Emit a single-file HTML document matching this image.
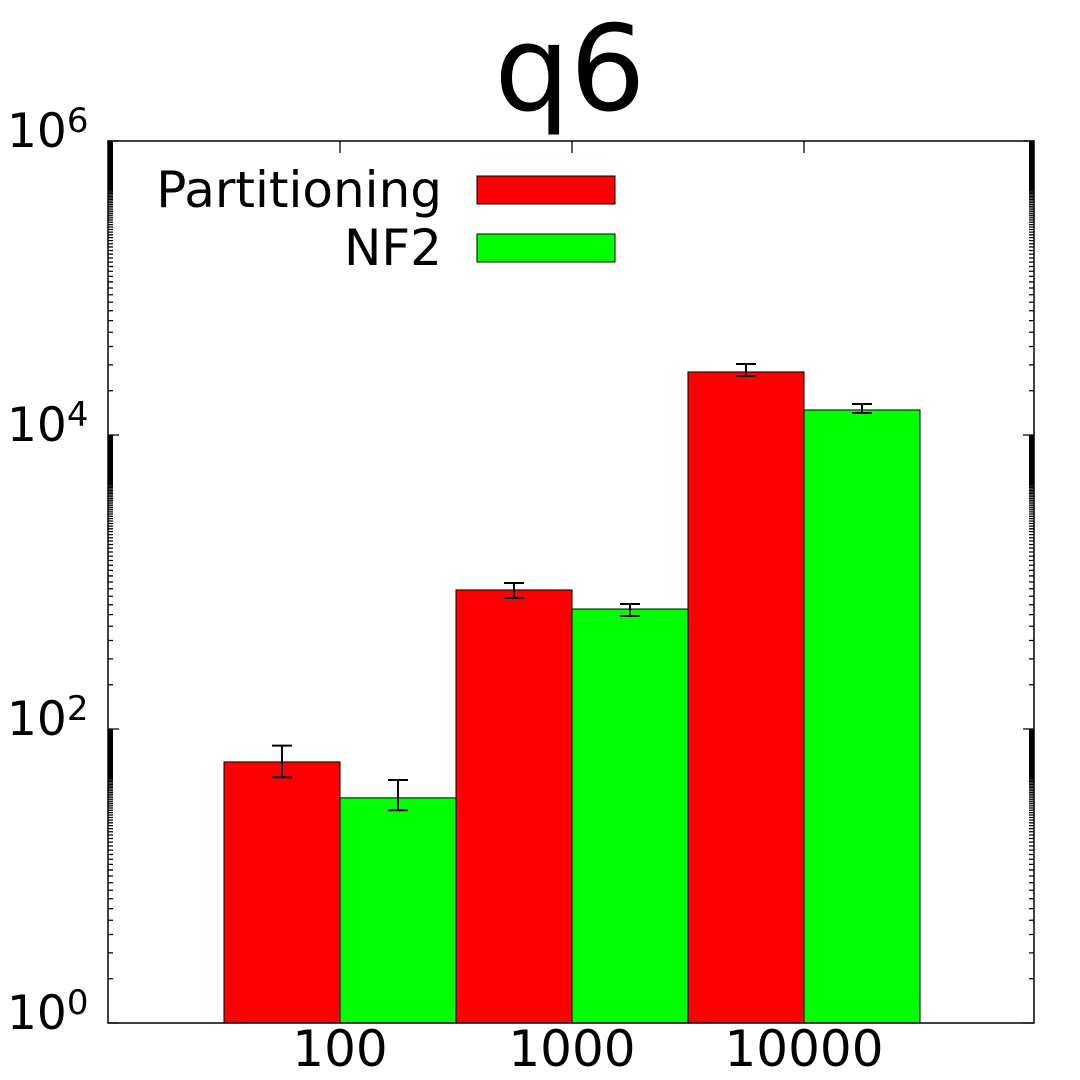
<!DOCTYPE html>
<html><head><meta charset="utf-8"><style>
body{margin:0;background:#fff}
svg{display:block;font-family:"DejaVu Sans","Liberation Sans",sans-serif}
</style></head><body>
<svg id="chart" width="1080" height="1080" viewBox="0 0 1080 1080" xmlns="http://www.w3.org/2000/svg">
<rect width="1080" height="1080" fill="#fff"/>
<text x="570" y="110" font-size="119" text-anchor="middle">q6</text>
<g id="plot"></g>
</svg>
<script>
const categories = ["100", "1000", "10000"];
const seriesNames = ["Partitioning", "NF2"];
const partitioning = [59.7, 883, 26850];
const partitioningLow = [47, 778, 25200];
const partitioningHigh = [77, 984, 30400];
const nf2 = [34, 655, 14800];
const nf2Low = [28, 587, 14120];
const nf2High = [45, 708, 16250];
const yTickExps = [0, 2, 4, 6];

const L=108,R=1034,T=141,B=1023;
const NS="http://www.w3.org/2000/svg";
const g=document.getElementById('plot');
function y(v){return B-(Math.log10(v)-0)/6*(B-T);}
const groupW=232, x0=224;
function gx(i){return x0+i*groupW;}
function mk(tag,attrs,parent){const e=document.createElementNS(NS,tag);for(const k in attrs)e.setAttribute(k,attrs[k]);(parent||g).appendChild(e);return e;}

let tickPath='';
for(let k=0;k<6;k+=2){
  const base=Math.pow(10,k);
  for(let m=2;m<100;m++){
    const yy=y(m*base).toFixed(2);
    tickPath+=`M${L},${yy}h5M${R},${yy}h-5`;
  }
}
yTickExps.forEach(e=>{const yy=y(Math.pow(10,e)).toFixed(2);tickPath+=`M${L},${yy}h11M${R},${yy}h-11`;});
const ticks=mk('path',{d:tickPath,stroke:'#000','stroke-width':1.3,fill:'none'});



yTickExps.forEach(e=>{
  const yy=y(Math.pow(10,e));
  const t=mk('text',{x:7,y:yy+6,'font-size':47,'text-anchor':'start'});
  
  
  t.textContent='10';
  const s=mk('tspan',{dy:-15,'font-size':34},t); s.textContent=String(e);
});

const series=[[partitioning,partitioningLow,partitioningHigh,'#ff0000'],[nf2,nf2Low,nf2High,'#00ff00']];
categories.forEach((c,i)=>{
  const cx=gx(i)+groupW/2;
  const lab=mk('text',{x:cx,y:1066,'font-size':50,'text-anchor':'middle'});
  
  
  lab.textContent=c;
  [T,B].forEach(yy=>{
    const tk=mk('line',{x1:cx,x2:cx,y1:yy,y2:yy===T?T+12:B-12,stroke:'#000','stroke-width':1.3});
    
    
  });
  series.forEach((s,j)=>{
    const bx=gx(i)+j*groupW/2, w=groupW/2, top=y(s[0][i]);
    const r=mk('rect',{x:bx,y:top,width:w,height:B-top,fill:s[3],stroke:'#000','stroke-width':1});
    
    
    const ex=bx+w/2, yl=y(s[1][i]), yh=y(s[2][i]);
    const eb=mk('path',{d:`M${ex},${yl}V${yh}M${ex-10},${yl}H${ex+10}M${ex-10},${yh}H${ex+10}`,stroke:'#000','stroke-width':2,fill:'none'});
    
    
  });
});

const frame=mk('rect',{x:L,y:T,width:R-L,height:B-T,fill:'none',stroke:'#000','stroke-width':1.5});



seriesNames.forEach((n,j)=>{
  const yy=190+j*58;
  const t=mk('text',{x:442,y:yy+17,'font-size':50,'text-anchor':'end'});
  
  
  t.textContent=n;
  const r=mk('rect',{x:477,y:yy-14,width:138,height:28,fill:series[j][3],stroke:'#000','stroke-width':1});
  
  
});
</script>
</body></html>
